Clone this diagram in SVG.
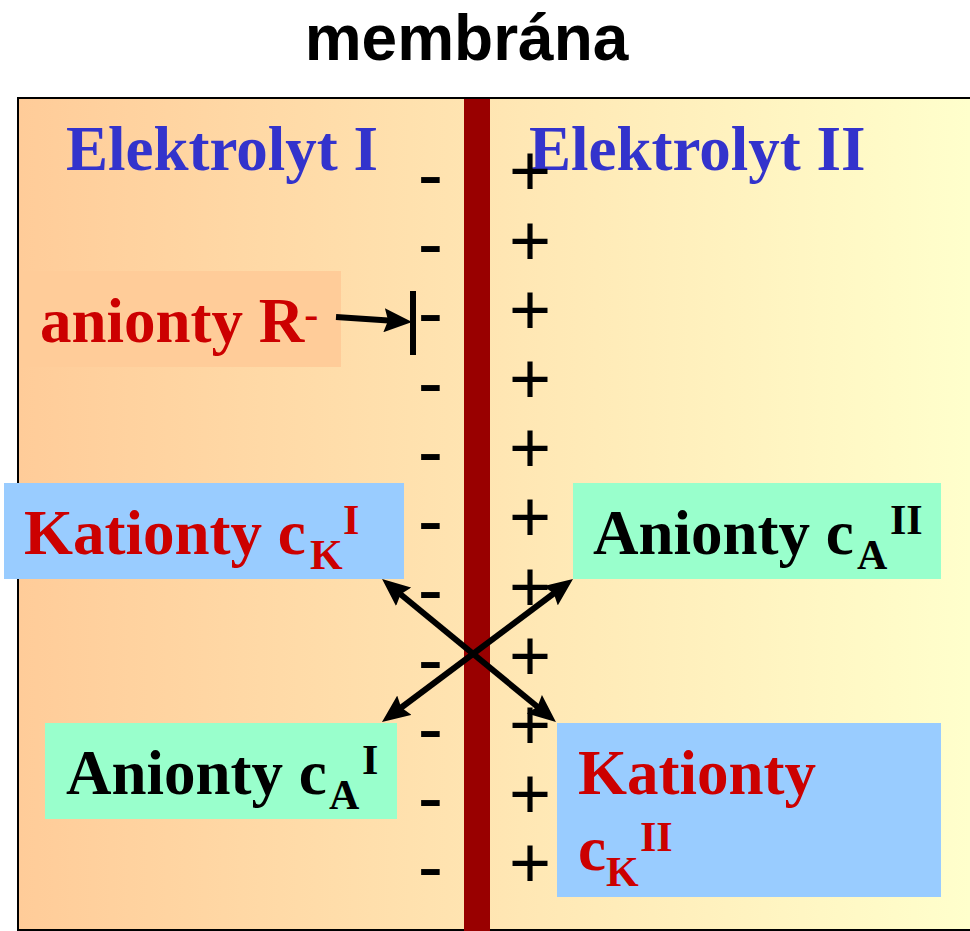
<svg xmlns="http://www.w3.org/2000/svg" width="970" height="931" viewBox="0 0 970 931">
  <defs>
    <linearGradient id="bg" x1="18" y1="0" x2="970" y2="0" gradientUnits="userSpaceOnUse">
      <stop offset="0" stop-color="#FFCC99"/>
      <stop offset="1" stop-color="#FFFFCC"/>
    </linearGradient>
    <marker id="ah" viewBox="0 0 28 24" refX="8" refY="12" markerWidth="28" markerHeight="24" markerUnits="userSpaceOnUse" orient="auto-start-reverse">
      <path d="M0,0 L28,12 L0,24 L4,12 z" fill="#000"/>
    </marker>
    <style>
      .lbl { font-family: "Liberation Serif", "Times New Roman", serif; font-weight: bold; font-size: 63px; }
      .sub { font-size: 42px; }
      .el { fill: #3333CC; }
      .red { fill: #CC0000; }
      .blk { fill: #000000; }
      .minus { font-family: "Liberation Sans", Arial, sans-serif; font-size: 76px; text-anchor: middle; fill: #000; }
      .plus { font-family: "Liberation Sans", Arial, sans-serif; font-size: 72px; text-anchor: middle; fill: #000; }
      .conn { fill: none; stroke: #000; stroke-width: 6; }
    </style>
  </defs>

  <rect x="0" y="0" width="970" height="931" fill="#FFFFFF"/>
  <text x="466.5" y="60" font-family="'Liberation Sans', Arial, sans-serif" font-weight="bold" font-size="64" text-anchor="middle" fill="#000">membrána</text>

  <g id="frame">
    <rect x="18" y="98" width="962" height="832" fill="url(#bg)" stroke="#000" stroke-width="2"/>
  </g>

  <g id="membrane">
    <rect x="464" y="99" width="26" height="832" fill="#990000"/>
  </g>

  <g id="charges-minus">
    <text class="minus" x="430.5" y="199.8">-</text>
    <text class="minus" x="430.5" y="269.1">-</text>
    <text class="minus" x="430.5" y="338.3">-</text>
    <text class="minus" x="430.5" y="407.6">-</text>
    <text class="minus" x="430.5" y="476.8">-</text>
    <text class="minus" x="430.5" y="546.1">-</text>
    <text class="minus" x="430.5" y="615.3">-</text>
    <text class="minus" x="430.5" y="684.6">-</text>
    <text class="minus" x="430.5" y="753.8">-</text>
    <text class="minus" x="430.5" y="823.1">-</text>
    <text class="minus" x="430.5" y="892.3">-</text>
  </g>

  <g id="label-elektrolyt-1">
    <text class="lbl el" x="66" y="170">Elektrolyt I</text>
  </g>
  <g id="label-elektrolyt-2">
    <text class="lbl el" x="529" y="170">Elektrolyt II</text>
  </g>

  <g id="charges-plus">
    <text class="plus" x="530" y="195.3">+</text>
    <text class="plus" x="530" y="264.5">+</text>
    <text class="plus" x="530" y="333.7">+</text>
    <text class="plus" x="530" y="402.9">+</text>
    <text class="plus" x="530" y="472.1">+</text>
    <text class="plus" x="530" y="541.3">+</text>
    <text class="plus" x="530" y="610.5">+</text>
    <text class="plus" x="530" y="679.7">+</text>
    <text class="plus" x="530" y="748.9">+</text>
    <text class="plus" x="530" y="818.1">+</text>
    <text class="plus" x="530" y="887.3">+</text>
  </g>

  <g id="node-anionty-R">
    <rect x="19" y="271" width="322" height="96" fill="#FFCC99"/>
    <text class="lbl red" x="40" y="342">anionty R<tspan class="sub" dy="-14">-</tspan></text>
  </g>

  <g id="node-kationty-1">
    <rect x="4" y="483" width="400" height="96" fill="#99CCFF"/>
    <text class="lbl red" x="24" y="554">Kationty c</text>
    <text class="lbl red sub" x="310" y="569">K</text>
    <text class="lbl red sub" x="343" y="534">I</text>
  </g>

  <g id="node-anionty-1">
    <rect x="45" y="723" width="352" height="96" fill="#99FFCC"/>
    <text class="lbl blk" x="66" y="794">Anionty c</text>
    <text class="lbl blk sub" x="329" y="809">A</text>
    <text class="lbl blk sub" x="362" y="774">I</text>
  </g>

  <g id="node-anionty-2">
    <rect x="573" y="483" width="368" height="96" fill="#99FFCC"/>
    <text class="lbl blk" x="593" y="554">Anionty c</text>
    <text class="lbl blk sub" x="857" y="569">A</text>
    <text class="lbl blk sub" x="890" y="534">II</text>
  </g>

  <g id="node-kationty-2">
    <rect x="557" y="723" width="384" height="174" fill="#99CCFF"/>
    <text class="lbl red" x="578" y="794">Kationty</text>
    <text class="lbl red" x="578" y="870">c</text>
    <text class="lbl red sub" x="606" y="886">K</text>
    <text class="lbl red sub" x="640" y="851">II</text>
  </g>

  <g id="connectors">
    <path class="conn" d="M336,317 L392.1,320.7" marker-end="url(#ah)"/>
    <line x1="413" y1="291" x2="413" y2="355" stroke="#000" stroke-width="6"/>
    <path class="conn" d="M397.5,591.7 L540.5,709.3" marker-start="url(#ah)" marker-end="url(#ah)"/>
    <path class="conn" d="M557,591 L398,710" marker-start="url(#ah)" marker-end="url(#ah)"/>
  </g>
</svg>
